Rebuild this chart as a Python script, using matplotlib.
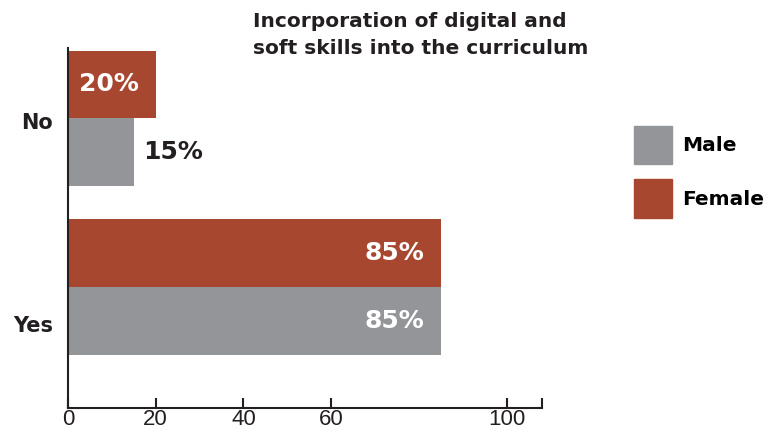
import numpy as np
import matplotlib
matplotlib.use('Agg')
import matplotlib.pyplot as plt
from matplotlib.patches import Patch

# survey answers, split by gender
categories = ['Yes', 'No']
male = [85, 15]
female = [85, 20]
male_labels = ['85%', '15%']
female_labels = ['85%', '20%']
xtick_vals = [0, 20, 40, 60, 100]
xtick_text = ['0', '20', '40', '60', '100']

title = 'Incorporation of digital and\nsoft skills into the curriculum'

red = '#A8472F'
grey = '#939598'
ink = '#231F20'
bold_font = 'DejaVu Sans'
tick_font = 'Liberation Sans'
xmax = 108

plt.rcParams['font.family'] = [bold_font]

fig = plt.figure(figsize=(7.68, 4.34), dpi=100)
ax = fig.add_axes([0.0885, 0.060, 0.617, 0.829])

y = np.arange(len(categories))
h = 0.40
bars_m = ax.barh(y - h / 2, male, height=h, color=grey, label='Male')
bars_f = ax.barh(y + h / 2, female, height=h, color=red, label='Female')

ax.set_xlim(0, xmax)
ax.set_ylim(-0.716, 1.414)

# labels: white inside the long bars, black beside the short male "No" bar
for b, txt in zip(bars_f, female_labels):
    ax.annotate(txt, (b.get_width(), b.get_y() + b.get_height() / 2),
                xytext=(-12, 0), textcoords='offset points', ha='right', va='center',
                color='white', fontsize=18, fontweight='bold')
for b, txt in zip(bars_m, male_labels):
    if b.get_width() > 30:
        ax.annotate(txt, (b.get_width(), b.get_y() + b.get_height() / 2),
                    xytext=(-12, 0), textcoords='offset points', ha='right', va='center',
                    color='white', fontsize=18, fontweight='bold')
    else:
        ax.annotate(txt, (b.get_width(), b.get_y() + b.get_height() / 2),
                    xytext=(7, 0), textcoords='offset points', ha='left', va='center',
                    color=ink, fontsize=18, fontweight='bold')

# "Yes" sits level with its male bar, "No" between its two bars
ax.set_yticks([y[0] - h / 2 - 0.02, y[1] - 0.02])
ax.set_yticklabels(categories, fontsize=15, fontweight='bold', color=ink)
ax.tick_params(axis='y', length=0, pad=11)

ax.set_xticks(xtick_vals + [xmax])
ax.set_xticklabels(xtick_text + [''], fontsize=16, color=ink, family=tick_font)
ax.tick_params(axis='x', direction='in', length=7, width=1.5, color=ink, pad=1)

for s in ['top', 'right']:
    ax.spines[s].set_visible(False)
for s in ['left', 'bottom']:
    ax.spines[s].set_color(ink)
    ax.spines[s].set_linewidth(1.5)

fig.text(0.329, 0.972, title, ha='left', va='top', fontsize=14.5, fontweight='bold',
         color=ink, linespacing=1.5)

handles = [Patch(color=grey, label='Male'), Patch(color=red, label='Female')]
fig.legend(handles=handles, loc='upper left', bbox_to_anchor=(0.8255, 0.71),
           frameon=False, handlelength=1.9, handleheight=2.55,
           labelspacing=0.75, handletextpad=0.5, borderpad=0, borderaxespad=0,
           prop={'weight': 'bold', 'size': 14.5})

fig.savefig('out.png', dpi=100)
